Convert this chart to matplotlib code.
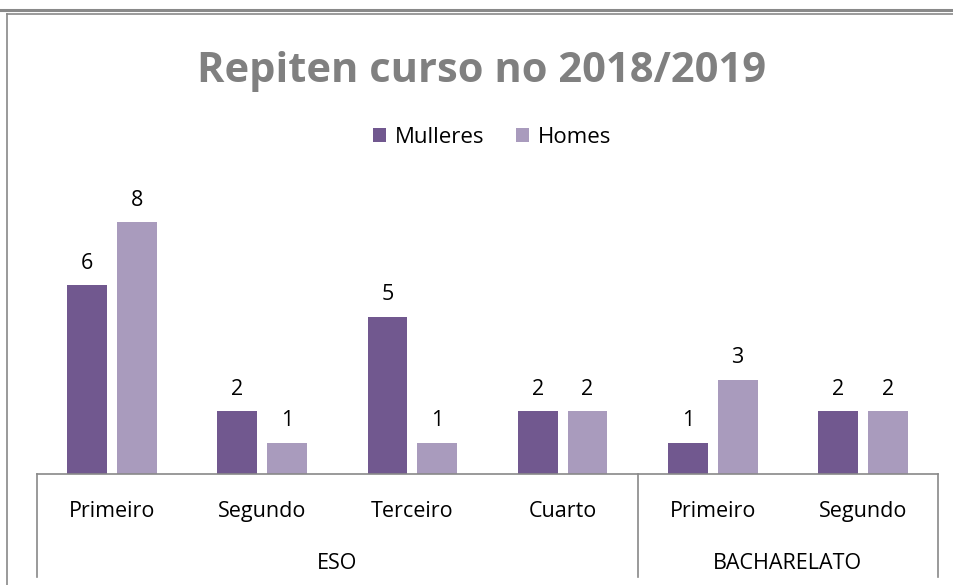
import matplotlib.pyplot as plt
import numpy as np

# Daten
kurse = ["Primeiro", "Segundo", "Terceiro", "Cuarto", "Primeiro", "Segundo"]
gruppen = ["ESO", "BACHARELATO"]
gruppen_groesse = [4, 2]
mulleres = [6, 2, 5, 2, 1, 2]
homes = [8, 1, 1, 2, 3, 2]

farbe_m = "#71588F"
farbe_h = "#A99BBD"
grau = "#898989"

plt.rcParams['font.family'] = ['Open Sans', 'DejaVu Sans']

fig = plt.figure(figsize=(9.54, 5.85), dpi=100)
W, H = 954, 585

# Achse in Pixelkoordinaten platzieren
x0, x1, y_base, px_per_unit = 37, 938, 474, 31.5
ymax = 9
ax = fig.add_axes([x0 / W, (H - y_base) / H, (x1 - x0) / W, ymax * px_per_unit / H])

x = np.arange(len(kurse))
bw = 0.266
b1 = ax.bar(x - 0.166, mulleres, bw, color=farbe_m, label="Mulleres")
b2 = ax.bar(x + 0.166, homes, bw, color=farbe_h, label="Homes")

for bars, vals in [(b1, mulleres), (b2, homes)]:
    for b, v in zip(bars, vals):
        ax.annotate(str(v), (b.get_x() + b.get_width() / 2, v), xytext=(0, 8),
                    textcoords="offset points", ha="center", va="bottom", fontsize=15.5)

ax.set_xlim(-0.5, len(kurse) - 0.5)
ax.set_ylim(0, ymax)
ax.set_xticks([])
ax.set_yticks([])
for s in ["top", "right", "left"]:
    ax.spines[s].set_visible(False)
ax.spines["bottom"].set_color(grau)
ax.spines["bottom"].set_linewidth(1.2)

# Mehrstufige Kategorieachse
unten = -(577 - y_base) / px_per_unit
for i, k in enumerate(kurse):
    ax.text(i, -(517 - y_base) / px_per_unit, k, ha="center", va="baseline", fontsize=15.5)
grenzen = np.concatenate([[0], np.cumsum(gruppen_groesse)]) - 0.5
for g in grenzen:
    ax.plot([g, g], [0, unten], color=grau, lw=1.2, clip_on=False)
for name, a, b in zip(gruppen, grenzen[:-1], grenzen[1:]):
    ax.text((a + b) / 2, -(569 - y_base) / px_per_unit, name, ha="center", va="baseline", fontsize=15.5)

# Titel und Legende
fig.text(482 / W, 1 - 72 / H, "Repiten curso no 2018/2019", ha="center", va="center",
         fontsize=30, fontweight="bold", color="#808080")
fig.legend(handles=[b1, b2], loc="center", bbox_to_anchor=(492 / W, 1 - 137 / H), ncol=2,
           frameon=False, fontsize=16, handlelength=0.6, handleheight=0.6,
           handletextpad=0.4, columnspacing=1.4)

# Rahmen des Diagramms
fig.add_artist(plt.Line2D([0, 1], [1 - 10 / H, 1 - 10 / H], color=grau, lw=2.2))
fig.add_artist(plt.Line2D([7 / W, 1], [1 - 14 / H, 1 - 14 / H], color=grau, lw=1.2))
fig.add_artist(plt.Line2D([7 / W, 7 / W], [0, 1 - 14 / H], color=grau, lw=1.2))

fig.savefig("out.png", dpi=100)
